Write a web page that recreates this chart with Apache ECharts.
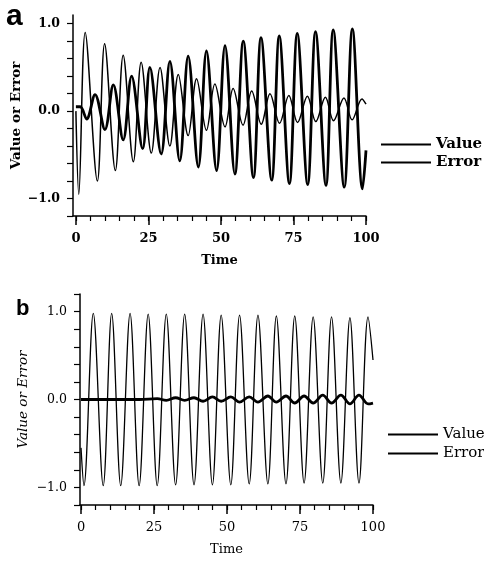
<!DOCTYPE html>
<html><head><meta charset="utf-8">
<script src="https://cdn.jsdelivr.net/npm/echarts@6/dist/echarts.min.js"></script>
<style>html,body{margin:0;padding:0;background:#fff}#c{width:484px;height:563px}</style>
</head><body><div id="c"></div>
<script>
// ---- Panel a ----
const aValueT = [0, 1.0, 3.2, 7.4, 9.9, 13.6, 16.3, 19.8, 22.5, 26.0, 29.0, 32.4, 35.3, 38.7, 41.6, 45.0, 47.9, 51.4, 54.2, 57.6, 60.6, 63.9, 66.9, 70.2, 73.4, 76.4, 79.8, 82.7, 86.0, 88.8, 92.4, 95.2, 98.6, 100];
const aValueV = [0.0, -0.95, 0.90, -0.80, 0.77, -0.68, 0.64, -0.58, 0.56, -0.48, 0.50, -0.40, 0.42, -0.28, 0.37, -0.22, 0.31, -0.18, 0.26, -0.16, 0.23, -0.15, 0.20, -0.14, 0.18, -0.13, 0.17, -0.12, 0.16, -0.11, 0.15, -0.10, 0.14, 0.08];
const aErrorT = [0, 1.5, 3.7, 6.6, 10.0, 12.9, 16.3, 19.2, 23.0, 25.5, 29.4, 32.4, 35.8, 38.7, 42.2, 45.0, 48.5, 51.4, 54.8, 57.7, 61.2, 63.8, 67.5, 70.1, 73.6, 76.3, 79.9, 82.6, 86.2, 88.7, 92.5, 95.3, 98.8, 100];
const aErrorV = [0.05, 0.05, -0.09, 0.19, -0.21, 0.30, -0.33, 0.40, -0.43, 0.50, -0.49, 0.57, -0.57, 0.63, -0.64, 0.69, -0.68, 0.75, -0.72, 0.80, -0.76, 0.84, -0.79, 0.86, -0.83, 0.89, -0.84, 0.91, -0.85, 0.93, -0.87, 0.94, -0.89, -0.45];
// ---- Panel b ----
const bValueT = [0, 1.0, 4.2, 7.6, 10.5, 13.6, 16.8, 19.9, 23.0, 26.1, 29.2, 32.4, 35.5, 38.7, 41.8, 45.0, 48.0, 51.3, 54.3, 57.6, 60.6, 64.0, 66.9, 70.2, 73.2, 76.4, 79.5, 82.8, 85.8, 89.0, 92.1, 95.2, 98.3, 100];
const bValueV = [-0.55, -0.98, 0.98, -0.98, 0.98, -0.98, 0.98, -0.98, 0.97, -0.98, 0.97, -0.97, 0.97, -0.97, 0.97, -0.97, 0.96, -0.97, 0.96, -0.96, 0.96, -0.96, 0.95, -0.96, 0.95, -0.95, 0.94, -0.95, 0.94, -0.95, 0.93, -0.95, 0.94, 0.45];
const bErrorT = [0, 20, 26.1, 29.2, 32.4, 35.5, 38.7, 41.8, 45.0, 48.0, 51.3, 54.3, 57.6, 60.6, 64.0, 66.9, 70.2, 73.2, 76.4, 79.5, 82.8, 85.8, 89.0, 92.1, 95.2, 98.3, 100];
const bErrorV = [0.0, 0.0, 0.01, -0.01, 0.02, -0.01, 0.02, -0.02, 0.03, -0.02, 0.03, -0.03, 0.03, -0.03, 0.04, -0.03, 0.04, -0.04, 0.04, -0.04, 0.05, -0.04, 0.05, -0.05, 0.05, -0.05, -0.04];
// ---- Ticks / labels ----
const xLabelTicks = [0, 25, 50, 75, 100];
const xMinorTicks = [0, 5, 10, 15, 20, 25, 30, 35, 40, 45, 50, 55, 60, 65, 70, 75, 80, 85, 90, 95, 100];
const yLabelTicks = [-1, 0, 1];
const yMinorTicksA = [-1.2, -1.0, -0.8, -0.6, -0.4, -0.2, 0, 0.2, 0.4, 0.6, 0.8, 1.0];
const yMinorTicksB = [-1.2, -1.0, -0.8, -0.6, -0.4, -0.2, 0, 0.2, 0.4, 0.6, 0.8, 1.0, 1.2];
const seriesNames = ['Value', 'Error'];
const axisNames = { x: 'Time', y: 'Value or Error' };

const zip = (t, v) => t.map((x, i) => [x, v[i]]);
const FONT = 'DejaVu Serif';
const fmtY = v => (v < 0 ? '\u2212' : '') + Math.abs(v).toFixed(1);

function xAxes(gridIndex, min, bold) {
  return [{
    type: 'value', gridIndex, min, max: 100, position: 'bottom',
    name: axisNames.x, nameLocation: 'middle', nameGap: 38, nameMoveOverlap: false,
    nameTextStyle: { fontFamily: FONT, fontSize: 13, color: '#000', fontWeight: bold ? 'bold' : 'normal' },
    axisLine: { show: true, onZero: false, lineStyle: { color: '#000', width: 1.5 } },
    axisTick: { show: true, inside: false, length: 5, customValues: xMinorTicks, lineStyle: { color: '#000', width: 1.2 } },
    axisLabel: { customValues: xLabelTicks, margin: 16, fontFamily: FONT, fontSize: 13, color: '#000', fontWeight: bold ? 'bold' : 'normal' },
    splitLine: { show: false }
  }, {
    type: 'value', gridIndex, min, max: 100, position: 'bottom',
    axisLine: { show: false, onZero: false },
    axisTick: { show: true, inside: false, length: 9, customValues: xLabelTicks, lineStyle: { color: '#000', width: 1.5 } },
    axisLabel: { show: false },
    splitLine: { show: false }
  }];
}
function yAxis(gridIndex, min, max, minor, bold, italic, gap) {
  return {
    type: 'value', gridIndex, min, max, position: 'left',
    name: axisNames.y, nameLocation: 'middle', nameGap: gap, nameMoveOverlap: false,
    nameTextStyle: { fontFamily: FONT, fontSize: 13.5, color: '#000', fontWeight: bold ? 'bold' : 'normal', fontStyle: italic ? 'italic' : 'normal' },
    axisLine: { show: true, onZero: false, lineStyle: { color: '#000', width: 1.5 } },
    axisTick: { show: true, inside: false, length: 6, customValues: minor, lineStyle: { color: '#000', width: 1.2 } },
    axisLabel: { customValues: yLabelTicks, formatter: fmtY, margin: 13, fontFamily: FONT, fontSize: 12.5, color: '#000', fontWeight: bold ? 'bold' : 'normal' },
    splitLine: { show: false }
  };
}
function line(name, xi, yi, data, w) {
  return { name, type: 'line', xAxisIndex: xi, yAxisIndex: yi, data, symbol: 'none', smooth: 0.35,
    lineStyle: { color: '#000', width: w }, itemStyle: { color: '#000' }, animation: false };
}
function legend(left, top, gap, bold) {
  return { data: seriesNames, orient: 'vertical', left, top, padding: 0, itemWidth: 50, itemHeight: 14, itemGap: gap,
    selectedMode: false, itemStyle: { opacity: 0 },
    textStyle: { fontFamily: FONT, fontSize: 15, color: '#000', fontWeight: bold ? 'bold' : 'normal' } };
}

const chart = echarts.init(document.getElementById('c'), null, { renderer: 'canvas' });
chart.setOption({
  backgroundColor: '#fff',
  animation: false,
  grid: [
    { left: 73, top: 15, width: 293, height: 201, outerBoundsMode: 'none', containLabel: false },
    { left: 80, top: 294, width: 293, height: 211, outerBoundsMode: 'none', containLabel: false }
  ],
  xAxis: [...xAxes(0, -1, true), ...xAxes(1, -0.35, false)],
  yAxis: [yAxis(0, -1.2, 1.1, yMinorTicksA, true, false, 50), yAxis(1, -1.2, 1.2, yMinorTicksB, false, true, 50)],
  legend: [legend(380, 137, 3, true), legend(387, 427, 4, false)],
  graphic: [
    { type: 'text', left: 6, top: 2, style: { text: 'a', font: 'bold 30px "Liberation Sans"', fill: '#000' } },
    { type: 'text', left: 16, top: 298, style: { text: 'b', font: 'bold 22px "Liberation Sans"', fill: '#000' } }
  ],
  series: [
    line(seriesNames[0], 0, 0, zip(aValueT, aValueV), 1.5),
    line(seriesNames[1], 0, 0, zip(aErrorT, aErrorV), 2.8),
    line(seriesNames[0], 2, 1, zip(bValueT, bValueV), 1.3),
    line(seriesNames[1], 2, 1, zip(bErrorT, bErrorV), 2.8)
  ]
});
</script></body></html>
